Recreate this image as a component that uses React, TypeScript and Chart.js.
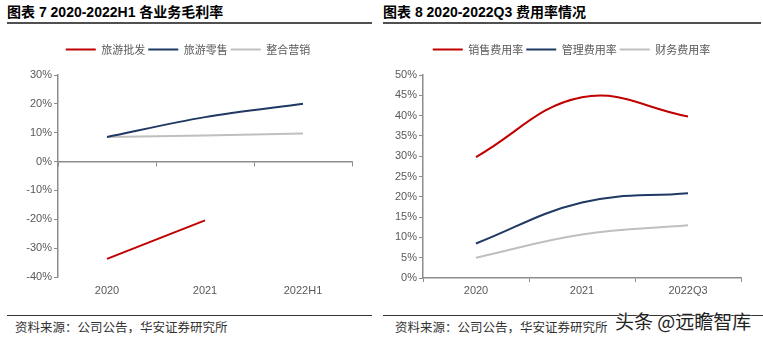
import React, { useEffect, useRef } from "react";
import { Chart, registerables } from "chart.js";

Chart.register(...registerables);

// ---- Chart 7 data ----
const catsLeft = ["2020", "2021", "2022H1"];
const wholesale = [-33.7, -20.4, null];
const retail = [8.5, 15.4, 20.0];
const marketing = [8.5, 9.0, 9.7];
const seriesLeftNames = ["旅游批发", "旅游零售", "整合营销"];

// ---- Chart 8 data ----
const catsRight = ["2020", "2021", "2022Q3"];
const sellingRate = [29.8, 44.5, 39.8];
const adminRate = [8.5, 18.6, 20.9];
const financeRate = [5.0, 10.7, 13.0];
const seriesRightNames = ["销售费用率", "管理费用率", "财务费用率"];

const RED = "#C00000";
const NAVY = "#203864";
const GRAY = "#BFBFBF";
const AXIS = "#8C8C8C";
const TEXT = "#595959";

const tickFont = { family: "'Liberation Sans', Arial, sans-serif", size: 11 };
const legendFont = { family: "'Noto Sans CJK SC', sans-serif", size: 11 };

// Legend box: fixed height, centred across the whole canvas width
function legendLayoutPlugin(height: number) {
  return {
    id: "legendLayout",
    beforeLayout(chart: any) {
      const lg = chart.legend;
      if (lg && !lg.__wrapped) {
        const fit = lg.fit.bind(lg);
        lg.fit = function () {
          fit();
          this.height = height;
        };
        lg.__wrapped = true;
      }
    },
    afterLayout(chart: any) {
      const lg = chart.legend;
      if (lg) {
        lg.left = 0;
        lg.right = chart.width;
        lg.width = chart.width;
      }
    },
  };
}

function legendOpts() {
  return {
    display: true,
    position: "top" as const,
    labels: {
      usePointStyle: true,
      pointStyle: "line",
      pointStyleWidth: 30,
      padding: 3,
      color: TEXT,
      font: legendFont,
    },
  };
}

function ds(label: string, data: (number | null)[], color: string, tension: number) {
  return {
    label,
    data,
    borderColor: color,
    backgroundColor: color,
    borderWidth: 2,
    pointRadius: 0,
    pointHoverRadius: 0,
    tension,
    spanGaps: false,
    fill: false,
  };
}

function LeftChart() {
  const ref = useRef<HTMLCanvasElement>(null);
  useEffect(() => {
    const chart = new Chart(ref.current!, {
      type: "line",
      data: {
        labels: catsLeft,
        datasets: [
          ds(seriesLeftNames[0], wholesale, RED, 0),
          ds(seriesLeftNames[1], retail, NAVY, 0.3),
          ds(seriesLeftNames[2], marketing, GRAY, 0.3),
        ],
      },
      plugins: [legendLayoutPlugin(34)],
      options: {
        animation: false,
        responsive: false,
        events: [],
        layout: { padding: { top: 5, right: 24, left: 0, bottom: 0 } },
        plugins: { legend: legendOpts() as any, tooltip: { enabled: false } },
        scales: {
          x: {
            type: "category",
            position: { y: 0 } as any,
            offset: true,
            grid: {
              display: true,
              offset: true,
              drawOnChartArea: false,
              drawTicks: true,
              tickLength: 4,
              color: AXIS,
            },
            border: { display: true, color: AXIS, width: 1.5 },
            ticks: { display: false },
          },
          x2: {
            type: "category",
            labels: catsLeft,
            position: "bottom",
            offset: true,
            grid: { display: false, drawTicks: false },
            border: { display: false },
            ticks: { color: TEXT, font: tickFont, padding: 7 },
            afterFit: (s: any) => {
              s.height = 25;
            },
          },
          y: {
            min: -40,
            max: 30,
            ticks: {
              stepSize: 10,
              color: TEXT,
              font: tickFont,
              padding: 2,
              callback: (v: any) => `${v}%`,
            },
            grid: {
              drawOnChartArea: false,
              drawTicks: true,
              tickLength: 4,
              color: AXIS,
            },
            border: { display: true, color: AXIS, width: 1.5 },
            afterFit: (s: any) => {
              s.width = 58;
            },
          },
        },
      },
    });
    return () => chart.destroy();
  }, []);
  return <canvas ref={ref} width={376} height={266} style={{ position: "absolute", left: 0, top: 36 }} />;
}

function RightChart() {
  const ref = useRef<HTMLCanvasElement>(null);
  useEffect(() => {
    const chart = new Chart(ref.current!, {
      type: "line",
      data: {
        labels: catsRight,
        datasets: [
          ds(seriesRightNames[0], sellingRate, RED, 0.4),
          ds(seriesRightNames[1], adminRate, NAVY, 0.4),
          ds(seriesRightNames[2], financeRate, GRAY, 0.4),
        ],
      },
      plugins: [legendLayoutPlugin(34)],
      options: {
        animation: false,
        responsive: false,
        events: [],
        layout: { padding: { top: 5, right: 22, left: 0, bottom: 0 } },
        plugins: { legend: legendOpts() as any, tooltip: { enabled: false } },
        scales: {
          x: {
            type: "category",
            offset: true,
            grid: {
              display: true,
              offset: true,
              drawOnChartArea: false,
              drawTicks: true,
              tickLength: 4,
              color: AXIS,
            },
            border: { display: true, color: AXIS, width: 1.5 },
            ticks: { color: TEXT, font: tickFont, padding: 2 },
            afterFit: (s: any) => {
              s.height = 24;
            },
          },
          y: {
            min: 0,
            max: 50,
            ticks: {
              stepSize: 5,
              color: TEXT,
              font: tickFont,
              padding: 2,
              callback: (v: any) => `${v}%`,
            },
            grid: {
              drawOnChartArea: false,
              drawTicks: true,
              tickLength: 4,
              color: AXIS,
            },
            border: { display: true, color: AXIS, width: 1.5 },
            afterFit: (s: any) => {
              s.width = 43;
            },
          },
        },
      },
    });
    return () => chart.destroy();
  }, []);
  return <canvas ref={ref} width={383} height={266} style={{ position: "absolute", left: 380, top: 36 }} />;
}

const titleStyle: React.CSSProperties = {
  position: "absolute",
  top: 3,
  fontFamily: "'Liberation Sans', 'Noto Sans CJK SC', sans-serif",
  fontWeight: 700,
  fontSize: 14,
  lineHeight: "18px",
  color: "#000",
  whiteSpace: "nowrap",
};

const sourceStyle: React.CSSProperties = {
  position: "absolute",
  top: 319,
  fontFamily: "'Noto Sans CJK SC', serif",
  fontSize: 12.5,
  lineHeight: "16px",
  color: "#333",
  whiteSpace: "nowrap",
};

export default function App() {
  return (
    <div
      style={{
        position: "fixed",
        left: 0,
        top: 0,
        width: 763,
        height: 338,
        background: "#fff",
        overflow: "hidden",
      }}
    >
      <div style={{ ...titleStyle, left: 7 }}>图表 7 2020-2022H1 各业务毛利率</div>
      <div style={{ ...titleStyle, left: 383 }}>图表 8 2020-2022Q3 费用率情况</div>
      <div style={{ position: "absolute", left: 7, top: 22, width: 365, height: 2, background: "#505050" }} />
      <div style={{ position: "absolute", left: 383, top: 22, width: 378, height: 2, background: "#505050" }} />
      <LeftChart />
      <RightChart />
      <div style={{ position: "absolute", left: 7, top: 315, width: 365, height: 1, background: "#333" }} />
      <div style={{ position: "absolute", left: 383, top: 315, width: 380, height: 1, background: "#333" }} />
      <div style={{ ...sourceStyle, left: 15 }}>资料来源：公司公告，华安证券研究所</div>
      <div style={{ ...sourceStyle, left: 395 }}>资料来源：公司公告，华安证券研究所</div>
      <div
        style={{
          position: "absolute",
          left: 615,
          top: 309,
          fontFamily: "'Noto Sans CJK SC', sans-serif",
          fontSize: 19,
          lineHeight: "24px",
          color: "#222",
          whiteSpace: "nowrap",
          textShadow: "0 0 2px #fff, 0 0 2px #fff",
        }}
      >
        头条 @远瞻智库
      </div>
    </div>
  );
}
